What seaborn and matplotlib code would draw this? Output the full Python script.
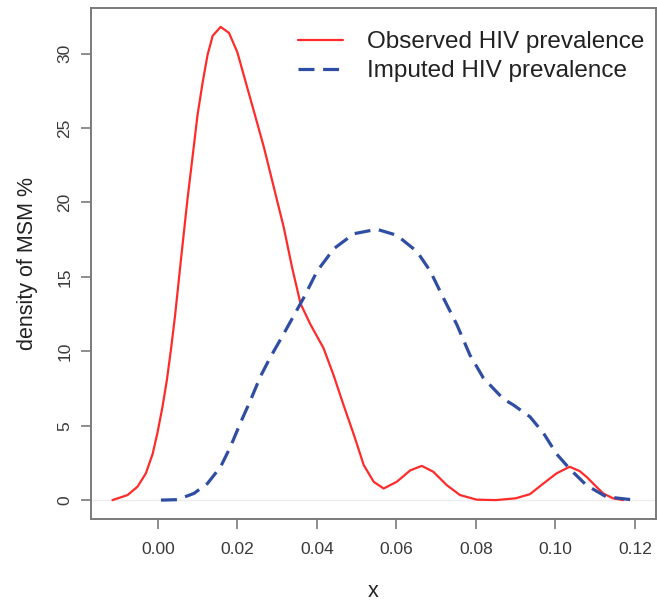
import matplotlib
matplotlib.use("Agg")
import matplotlib.pyplot as plt
import seaborn as sns
import pandas as pd

# ---- data ----
observed_x = [-0.0114, -0.0076, -0.0051, -0.0030, -0.0013, -0.0001, 0.0012, 0.0023,
              0.0033, 0.0043, 0.0060, 0.0075, 0.0088, 0.0100, 0.0113, 0.0125,
              0.0138, 0.0158, 0.0179, 0.0200, 0.0221, 0.0242, 0.0267, 0.0292,
              0.0317, 0.0338, 0.0359, 0.0384, 0.0417, 0.0442, 0.0467, 0.0493,
              0.0518, 0.0543, 0.0568, 0.0601, 0.0635, 0.0664, 0.0693, 0.0727,
              0.0760, 0.0802, 0.0850, 0.0900, 0.0936, 0.0970, 0.1003, 0.1036,
              0.1061, 0.1078, 0.1103, 0.1120, 0.1145, 0.1170]
observed_y = [0.0, 0.34, 0.9, 1.8, 3.1, 4.5, 6.3, 8.1,
              10.1, 12.3, 16.6, 20.3, 23.2, 25.9, 28.1, 29.9,
              31.2, 31.8, 31.4, 30.1, 28.1, 26.1, 23.7, 21.0,
              18.3, 15.6, 13.2, 11.8, 10.2, 8.4, 6.4, 4.4,
              2.35, 1.23, 0.78, 1.23, 2.0, 2.3, 1.9, 1.0,
              0.34, 0.03, 0.0, 0.12, 0.4, 1.12, 1.8, 2.24,
              1.95, 1.57, 0.9, 0.45, 0.12, 0.0]

imputed_x = [0.0008, 0.0049, 0.0091, 0.0125, 0.0158, 0.0183, 0.0208, 0.0233,
             0.0258, 0.0283, 0.0313, 0.0338, 0.0367, 0.0401, 0.0443, 0.0493,
             0.0551, 0.0601, 0.0652, 0.0685, 0.0718, 0.0752, 0.0785, 0.0819,
             0.0869, 0.0894, 0.0936, 0.0970, 0.1003, 0.1036, 0.1078, 0.1128, 0.1200]
imputed_y = [0.0, 0.03, 0.45, 1.12, 2.24, 3.6, 5.2, 6.7,
             8.3, 9.6, 11.0, 12.2, 13.6, 15.4, 16.9, 17.9,
             18.2, 17.8, 16.7, 15.4, 13.6, 11.8, 9.75, 8.2,
             6.8, 6.4, 5.6, 4.5, 3.1, 2.1, 1.0, 0.22, 0.0]

series_names = ["Observed HIV prevalence", "Imputed HIV prevalence"]
x_ticks = [0.00, 0.02, 0.04, 0.06, 0.08, 0.10, 0.12]
y_ticks = [0, 5, 10, 15, 20, 25, 30]

df = pd.concat([
    pd.DataFrame({"x": observed_x, "density": observed_y, "series": series_names[0]}),
    pd.DataFrame({"x": imputed_x, "density": imputed_y, "series": series_names[1]}),
], ignore_index=True)

sns.set_style("white")
plt.rcParams["font.family"] = ["Liberation Sans", "DejaVu Sans"]
plt.rcParams["lines.solid_joinstyle"] = "round"
plt.rcParams["lines.dash_joinstyle"] = "round"

fig = plt.figure(figsize=(6.57, 6.04), dpi=100)
ax = fig.add_axes([91 / 657, 85 / 604, 565 / 657, 511 / 604])

red = "#FF2B2B"
blue = "#2F4EA3"

ax.axhline(0, color="#ECECEC", lw=1, zorder=0)

sns.lineplot(data=df, x="x", y="density", hue="series", style="series",
             hue_order=series_names, style_order=series_names,
             palette={series_names[0]: red, series_names[1]: blue},
             dashes={series_names[0]: "", series_names[1]: (5, 2.7)},
             estimator=None, sort=False, ax=ax, legend=False)
lines = ax.get_lines()
lines[1].set_linewidth(1.6)
lines[2].set_linewidth(2.3)

leg = ax.legend(handles=[lines[1], lines[2]], labels=series_names,
                loc="upper left", bbox_to_anchor=((298 - 91) / 565, (519 - 31) / 511),
                frameon=False, fontsize=17.5, handlelength=1.85, handletextpad=1.0,
                borderpad=0, borderaxespad=0, labelspacing=0.3)
for t in leg.get_texts():
    t.set_color("#222222")

ax.set_xlim(-0.0168, 0.1253)
ax.set_ylim(-1.27, 33.07)
ax.set_xticks(x_ticks)
ax.set_xticklabels([f"{v:.2f}" for v in x_ticks])
ax.set_yticks(y_ticks)
ax.set_yticklabels([str(v) for v in y_ticks], rotation=90, va="center")

frame_col = "#7A7A7A"
for s in ax.spines.values():
    s.set_color(frame_col)
    s.set_linewidth(1.4)
ax.tick_params(axis="both", which="major", direction="out", length=7.5, width=1.2,
               color=frame_col, labelsize=12.5, labelcolor="#3A3A3A",
               bottom=True, left=True)
ax.tick_params(axis="x", pad=9)
ax.tick_params(axis="y", pad=6)

ax.set_xlabel("x", fontsize=15.5, color="#222222", labelpad=17)
ax.set_ylabel("density of MSM %", fontsize=15.5, color="#222222", labelpad=14)

fig.savefig("out.png", dpi=100)
